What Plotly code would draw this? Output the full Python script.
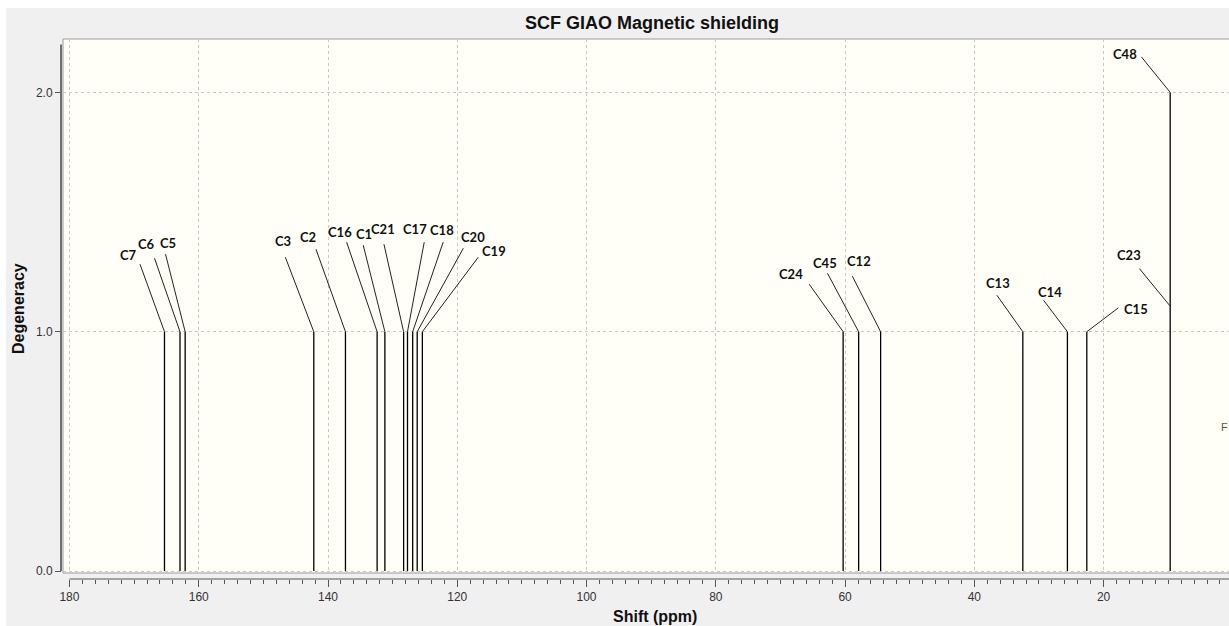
import plotly.graph_objects as go

# ---------------- data ----------------
atoms = ["C7", "C6", "C5", "C3", "C2", "C16", "C1", "C21", "C17", "C18",
         "C20", "C19", "C24", "C45", "C12", "C13", "C14", "C15", "C23", "C48"]
shifts_ppm = [165.3, 162.9, 162.1, 142.2, 137.3, 132.4, 131.2, 128.3, 127.7, 126.9,
              126.2, 125.4, 60.3, 57.9, 54.5, 32.5, 25.6, 22.6, 9.7, 9.7]
x_tick_vals = [180, 160, 140, 120, 100, 80, 60, 40, 20]
x_tick_text = ["180", "160", "140", "120", "100", "80", "60", "40", "20"]
y_tick_vals = [0, 1, 2]
y_tick_text = ["0.0", "1.0", "2.0"]

# ---------------- label styling (pixel offsets relative to the stick tip) -----
# atom: (leader dx, leader dy, text dx, text dy)
label_style = {
    "C7": (-25, -69, -36, -77), "C6": (-26, -75, -33, -88), "C5": (-20, -79, -17, -89),
    "C3": (-29, -76, -31, -91), "C2": (-30, -84, -37, -95), "C16": (-31, -91, -37, -100),
    "C1": (-22, -88, -21, -98), "C21": (-20, -89, -21, -103), "C17": (17, -91, 7, -103),
    "C18": (31, -91, 29, -102), "C20": (47, -85, 56, -95), "C19": (57, -76, 72, -81),
    "C24": (-35, -49, -52, -58), "C45": (-32, -60, -34, -69), "C12": (-29, -57, -22, -71),
    "C13": (-27, -38, -25, -49), "C14": (-25, -33, -17, -40), "C15": (33, -25, 49, -23),
    "C23": (-32, -39, -41, -51), "C48": (-30, -37, -45, -38),
}
attach_level = {"C23": 1.107}

# ---------------- geometry ----------------
W, H = 1229, 626
ML, MR, MT, MB = 61, 0, 39, 47
PW, PH = W - ML - MR, H - MT - MB
xdom0 = 2 / PW
ydom0 = 6 / PH

# degeneracy = number of atoms sharing a shift
lines = {}
for s in shifts_ppm:
    lines[s] = lines.get(s, 0) + 1

xs, ys = [], []
for s, d in lines.items():
    xs += [s, s, None]
    ys += [0, d, None]

fig = go.Figure()
fig.add_trace(go.Scatter(x=xs, y=ys, mode="lines",
                         line=dict(color="#000000", width=1.3),
                         hoverinfo="skip", showlegend=False))

label_font = dict(family="Lato, Carlito, Calibri, sans-serif", size=13, color="#111111")
annotations = []
for a, s in zip(atoms, shifts_ppm):
    ldx, ldy, tdx, tdy = label_style[a]
    level = attach_level.get(a, lines[s])
    annotations.append(dict(x=s, y=level, xref="x", yref="y", text="",
                            showarrow=True, arrowhead=0, arrowwidth=1,
                            arrowcolor="#222222", ax=ldx, ay=ldy,
                            standoff=0, startstandoff=0))
    annotations.append(dict(x=s, y=level, xref="x", yref="y",
                            text="<b>%s</b>" % a, showarrow=False,
                            xshift=tdx, yshift=-tdy, font=label_font,
                            xanchor="center", yanchor="middle"))

# axis titles and stray text
annotations.append(dict(text="<b>Shift (ppm)</b>", xref="paper", yref="paper",
                        x=(655 - ML) / PW, y=(H - MB - 616) / PH, showarrow=False,
                        xanchor="center", yanchor="middle",
                        font=dict(family="Liberation Sans, Arial", size=16, color="#111111")))
annotations.append(dict(text="<b>Degeneracy</b>", xref="paper", yref="paper",
                        x=(18 - ML) / PW, y=(H - MB - 309) / PH, showarrow=False,
                        textangle=-90, xanchor="center", yanchor="middle",
                        font=dict(family="Liberation Sans, Arial", size=16, color="#111111")))
annotations.append(dict(text="F", xref="paper", yref="paper",
                        x=(1219 - ML) / PW, y=(H - MB - 427) / PH, showarrow=False,
                        xanchor="left", yanchor="middle",
                        font=dict(family="Liberation Sans, Arial", size=11, color="#555555")))

shapes = [
    # white strips at the window edge
    dict(type="rect", xref="paper", yref="paper", x0=-ML / PW, x1=1.01,
         y0=(H - MB - 8) / PH, y1=(H - MB) / PH + 0.01, fillcolor="white",
         line=dict(width=0), layer="below"),
    dict(type="rect", xref="paper", yref="paper", x0=-ML / PW - 0.01, x1=(6 - ML) / PW,
         y0=-MB / PH - 0.01, y1=(H - MB) / PH + 0.01, fillcolor="white",
         line=dict(width=0), layer="below"),
    # plot-area frame
    dict(type="rect", xref="paper", yref="paper", x0=xdom0, x1=1.002, y0=ydom0, y1=1,
         line=dict(color="#9a9a9a", width=1), fillcolor="rgba(0,0,0,0)", layer="below"),
    # offset y axis line
    dict(type="line", xref="paper", yref="y", x0=0, x1=0, y0=0, y1=2.2,
         line=dict(color="#707070", width=2)),
    # offset x axis line
    dict(type="line", xref="x", yref="paper", x0=180, x1=0, y0=0, y1=0,
         line=dict(color="#555555", width=1)),
]

tick_font = dict(family="Liberation Sans, Arial", size=12, color="#333333")

fig.update_layout(
    width=W, height=H,
    margin=dict(l=ML, r=MR, t=MT, b=MB, pad=0),
    paper_bgcolor="#f0f0f0",
    plot_bgcolor="#fffff7",
    title=dict(text="<b>SCF GIAO Magnetic shielding</b>",
               font=dict(family="Liberation Sans, Arial", size=18, color="#111111"),
               x=(652 - ML) / PW, xref="paper", xanchor="center",
               y=1 - 23 / H, yref="container", yanchor="middle"),
    xaxis=dict(range=[181.0, 0.6], domain=[xdom0, 1], anchor="free", position=0,
               tickvals=x_tick_vals, ticktext=x_tick_text,
               ticks="outside", ticklen=7, tickwidth=1, tickcolor="#555555",
               tickfont=tick_font, showline=False, zeroline=False,
               showgrid=True, gridcolor="#c8c8c8", gridwidth=1, griddash="3px,3px",
               minor=dict(dtick=2, tick0=0, ticks="outside", ticklen=4,
                          tickcolor="#555555", tickwidth=1, showgrid=False)),
    yaxis=dict(range=[-0.008, 2.223], domain=[ydom0, 1], anchor="free", position=0,
               tickvals=y_tick_vals, ticktext=y_tick_text,
               ticks="outside", ticklen=6, tickwidth=1, tickcolor="#555555",
               tickfont=tick_font, showline=False, zeroline=False,
               showgrid=True, gridcolor="#c8c8c8", gridwidth=1, griddash="3px,3px"),
    annotations=annotations,
    shapes=shapes,
    showlegend=False,
)

fig.write_html("out.html")
